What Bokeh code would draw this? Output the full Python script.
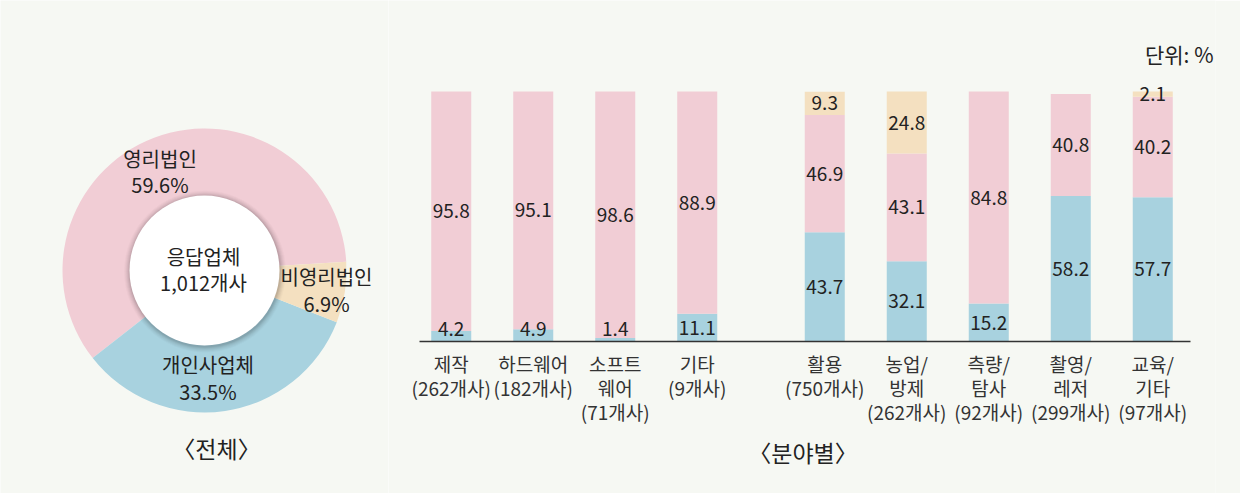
import math
from bokeh.plotting import figure
from bokeh.layouts import row
from bokeh.models import ColumnDataSource, FactorRange, Range1d
from bokeh.core.properties import value
from bokeh.embed import file_html
from bokeh.resources import INLINE

# ---------------- data ----------------
donut_labels = ["영리법인", "개인사업체", "비영리법인"]
donut_values = [59.6, 33.5, 6.9]
center_label = ["응답업체", "1,012개사"]
donut_title = "〈전체〉"

groups = ["제작", "제작", "제작", "제작", "활용", "활용", "활용", "활용", "활용"]
categories = ["제작", "하드웨어", "소프트\n웨어", "기타", "활용",
              "농업/\n방제", "측량/\n탐사", "촬영/\n레저", "교육/\n기타"]
counts = ["262개사", "182개사", "71개사", "9개사", "750개사",
          "262개사", "92개사", "299개사", "97개사"]
individual = [4.2, 4.9, 1.4, 11.1, 43.7, 32.1, 15.2, 58.2, 57.7]   # 개인사업체
corporate = [95.8, 95.1, 98.6, 88.9, 46.9, 43.1, 84.8, 40.8, 40.2]  # 영리법인
nonprofit = [0, 0, 0, 0, 9.3, 24.8, 0, 0, 2.1]                     # 비영리법인
bar_title = "〈분야별〉"
unit_text = "단위: %"

# ---------------- style ----------------
FONT = "Noto Sans CJK KR"
BG = "#f6f8f3"
PINK = "#f1cdd5"
BLUE = "#a8d2df"
BEIGE = "#f4e0c0"
TXT = "#222222"
H = 493
W1 = 388
W2 = 1240 - W1

# ---------------- donut (1 data unit = 1 px; y = -image y) ----------------
p1 = figure(width=W1, height=H, x_range=Range1d(0, W1), y_range=Range1d(-H, 0),
            x_axis_type=None, y_axis_type=None, output_backend="svg",
            toolbar_location=None, min_border=0, background_fill_color=BG,
            border_fill_color=BG, outline_line_color=None)
p1.grid.visible = False

cx, cy = 204, -270
a = math.radians(3.5)
starts, ends = [], []
for v in donut_values:
    starts.append(a)
    a = a + v / 100 * 2 * math.pi
    ends.append(a)
p1.annular_wedge(x=cx, y=cy, inner_radius=60, outer_radius=142,
                 start_angle=starts, end_angle=ends,
                 fill_color=[PINK, BLUE, BEIGE], line_color=None,
                 direction="anticlock")
for r, al in [(81, 0.02), (80, 0.025), (79, 0.03), (78, 0.04), (77, 0.05), (76, 0.06)]:
    p1.circle(x=cx + 0.5, y=cy - 1, radius=r, fill_color="#000000", fill_alpha=al,
              line_color=None)
p1.circle(x=cx, y=cy, radius=75, fill_color="white", line_color=None)

lab_pos = [(159.5, -157.5), (207.5, -364), (326, -276)]
dx, dy, dt = [], [], []
for (lx, ly), name, v in zip(lab_pos, donut_labels, donut_values):
    dx += [lx, lx]
    dy += [ly, ly - 26.5]
    dt += [name, f"{v}%"]
dx += [203, 203]
dy += [-256, -281.5]
dt += center_label
p1.text(x=dx, y=dy, text=dt, text_align="center", text_baseline="middle",
        text_font=value(FONT), text_font_size="20px", text_color=TXT)
p1.text(x=[216], y=[-447], text=[donut_title], text_align="center",
        text_baseline="middle", text_font=value(FONT), text_font_size="23px",
        text_color=TXT)

# ---------------- bars ----------------
GPAD, RPAD, RB = 0.555, 0.265, 25
factors = [(g, c) for g, c in zip(groups, categories)]
xr = FactorRange(*factors, group_padding=GPAD, factor_padding=0,
                 range_padding=RPAD, range_padding_units="absolute")
p2 = figure(width=W2, height=H, x_range=xr, y_range=Range1d(-60.8, 136.4),
            x_axis_type=None, y_axis_type=None, output_backend="svg",
            toolbar_location=None, min_border=0, min_border_right=RB,
            background_fill_color=BG, border_fill_color=BG, outline_line_color=None)
p2.grid.visible = False

# helpers: image pixel -> synthetic categorical x / percent y
FRAME_W = W2 - RB
SPAN = len(factors) + GPAD + 2 * RPAD
def sx(px):
    return (px - W1) / FRAME_W * SPAN - RPAD
def sy(py):
    return (341 - py) / 2.5

src = ColumnDataSource(dict(x=factors, ind=individual, corp=corporate, np=nonprofit))
p2.vbar_stack(["ind", "corp", "np"], x="x", width=0.488, source=src,
              fill_color=[BLUE, PINK, BEIGE], line_color=None)

# baseline (x axis line)
p2.segment(x0=[sx(419)], x1=[sx(1190)], y0=[0], y1=[0],
           line_color="#333333", line_width=1.5)

# value labels
tx, ty, tt = [], [], []
for f, vals in zip(factors, zip(individual, corporate, nonprofit)):
    bottom = 0.0
    for v in vals:
        if v > 0:
            tx.append(f)
            ty.append(max(bottom + v / 2, 5.2))
            tt.append(f"{v:.1f}")
        bottom += v
p2.text(x=tx, y=ty, text=tt, text_align="center", text_baseline="middle",
        text_font=value(FONT), text_font_size="19px", text_color=TXT)

# category labels under the baseline
lx, ly, lt = [], [], []
for f, n in zip(factors, counts):
    lines = f[1].split("\n") + [f"({n})"]
    for i, s in enumerate(lines):
        lx.append(f)
        ly.append(sy(362.5 + 24.3 * i))
        lt.append(s)
p2.text(x=lx, y=ly, text=lt, text_align="center",
        text_baseline="middle", text_font=value(FONT), text_font_size="19px",
        text_color="#333333")

p2.text(x=[sx(1213)], y=[sy(53)], text=[unit_text],
        text_align="right", text_baseline="middle", text_font=value(FONT),
        text_font_size="21px", text_color=TXT)
p2.text(x=[sx(802.5)], y=[sy(451.5)], text=[bar_title],
        text_align="center", text_baseline="middle", text_font=value(FONT),
        text_font_size="23px", text_color=TXT)

layout = row(p1, p2)
open("out.html", "w").write(file_html(layout, INLINE))
